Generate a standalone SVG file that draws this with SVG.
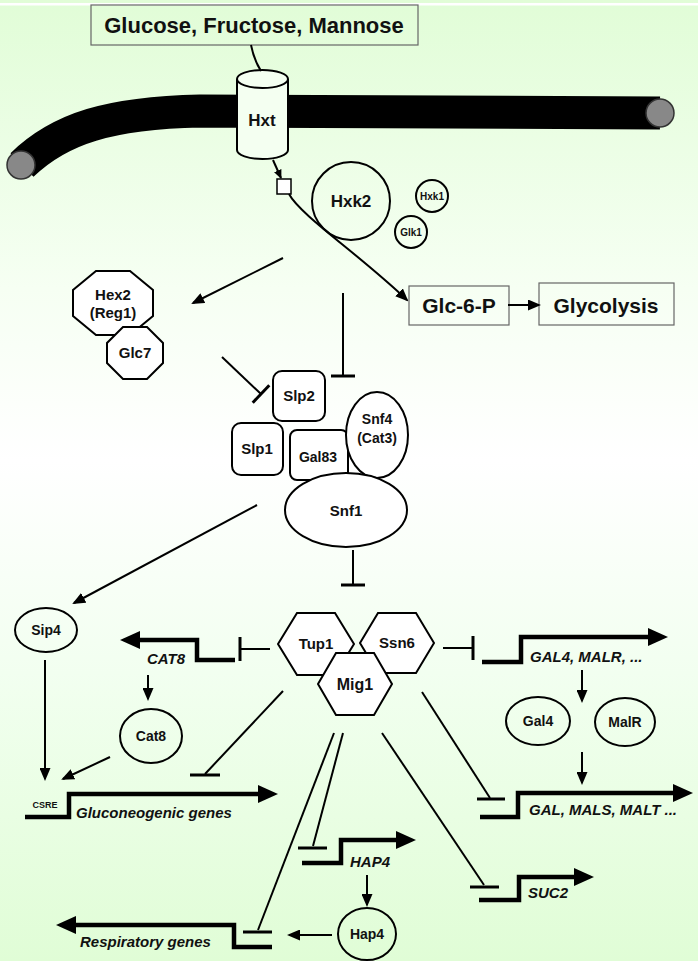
<svg xmlns="http://www.w3.org/2000/svg" width="698" height="961" viewBox="0 0 698 961">
<defs>
<linearGradient id="bg" x1="0" y1="0" x2="0" y2="1">
<stop offset="0" stop-color="#e1fdd7"/>
<stop offset="0.3" stop-color="#f6fff3"/>
<stop offset="0.48" stop-color="#ffffff"/>
<stop offset="0.7" stop-color="#f2fff0"/>
<stop offset="1" stop-color="#e0fdd6"/>
</linearGradient>
<marker id="ah" markerUnits="userSpaceOnUse" markerWidth="13" markerHeight="11" refX="11" refY="5.5" orient="auto" viewBox="0 0 13 11">
<path d="M0,0 L13,5.5 L0,11 z" fill="#000"/>
</marker>
<marker id="ahs" markerUnits="userSpaceOnUse" markerWidth="9" markerHeight="8" refX="8" refY="4" orient="auto" viewBox="0 0 9 8">
<path d="M0,0 L9,4 L0,8 z" fill="#000"/>
</marker>
<marker id="gh" markerUnits="userSpaceOnUse" markerWidth="20" markerHeight="18" refX="3" refY="9" orient="auto" viewBox="0 0 20 18">
<path d="M0,0 L20,9 L0,18 z" fill="#000"/>
</marker>
<style>
.nd{fill:#fff;stroke:#000;stroke-width:2}
.nt{fill:none;stroke:#000;stroke-width:2}
.bx{fill:none;stroke:#666;stroke-width:1.2}
.t{font-family:"Liberation Sans",Arial,sans-serif;font-weight:bold;fill:#111;text-anchor:middle}
.g{font-family:"Liberation Sans",Arial,sans-serif;font-weight:bold;font-style:italic;fill:#111;font-size:15px}
.ln{fill:none;stroke:#000;stroke-width:2}
.bar{fill:none;stroke:#000;stroke-width:3}
.gene{fill:none;stroke:#000;stroke-width:4.5;stroke-linejoin:miter}
.arr{marker-end:url(#ah)}
.garr{marker-end:url(#gh)}
</style>
</defs>
<rect width="698" height="961" fill="url(#bg)"/>
<rect x="0" y="3" width="698" height="2.5" fill="#ffffff"/>

<g id="membrane">
<path d="M 22 165 C 60 128, 110 113, 200 111 L 660 113" fill="none" stroke="#000" stroke-width="33" stroke-linecap="butt"/>
<circle cx="21" cy="165" r="14" fill="#888" stroke="#333" stroke-width="1.5"/>
<circle cx="660" cy="113" r="14" fill="#888" stroke="#333" stroke-width="1.5"/>
</g>

<g id="glucose">
<rect class="bx" x="91" y="5" width="327" height="40"/>
<text class="t" x="254" y="33" font-size="22">Glucose, Fructose, Mannose</text>
</g>

<g id="hxt">
<path d="M 237 79 L 237 150 A 25.5 9 0 0 0 288 150 L 288 79" fill="#f4fff1" stroke="#000" stroke-width="2"/>
<ellipse cx="262.5" cy="79" rx="25.5" ry="9" fill="#f4fff1" stroke="#000" stroke-width="2"/>
<text class="t" x="262" y="126" font-size="17">Hxt</text>
</g>

<g id="square">
<rect x="277" y="179" width="14" height="15" fill="#fff" stroke="#000" stroke-width="1.5"/>
</g>

<g id="hxk2">
<circle class="nt" cx="351" cy="201" r="39"/>
<text class="t" x="351" y="207" font-size="17">Hxk2</text>
</g>
<g id="hxk1">
<circle class="nt" cx="432" cy="196" r="16"/>
<text class="t" x="432" y="199.5" font-size="10">Hxk1</text>
</g>
<g id="glk1">
<circle class="nt" cx="411" cy="232" r="16"/>
<text class="t" x="411" y="235.5" font-size="10">Glk1</text>
</g>

<g id="glc6p">
<rect class="bx" x="409" y="286" width="100" height="39"/>
<text class="t" x="459" y="313" font-size="21">Glc-6-P</text>
</g>
<g id="glycolysis">
<rect class="bx" x="539" y="283" width="135" height="42"/>
<text class="t" x="606" y="313" font-size="21">Glycolysis</text>
</g>

<g id="hex2">
<polygon class="nd" points="96,271 130,271 153,290 153,316 130,335 96,335 73,316 73,290"/>
<text class="t" x="113" y="300" font-size="15">Hex2</text>
<text class="t" x="113" y="318" font-size="15">(Reg1)</text>
</g>
<g id="glc7">
<polygon class="nd" points="123,327 147,327 163,343 163,363 147,379 123,379 107,363 107,343"/>
<text class="t" x="135" y="358" font-size="15">Glc7</text>
</g>

<g id="slp2">
<rect class="nd" x="273" y="371" width="52" height="50" rx="9"/>
<text class="t" x="299" y="401" font-size="15">Slp2</text>
</g>
<g id="slp1">
<rect class="nd" x="232" y="423" width="51" height="52" rx="9"/>
<text class="t" x="257" y="454" font-size="15">Slp1</text>
</g>
<g id="gal83">
<rect class="nd" x="290" y="430" width="58" height="50" rx="7"/>
<text class="t" x="318" y="462" font-size="14">Gal83</text>
</g>
<g id="snf4">
<ellipse class="nd" cx="377" cy="435" rx="31" ry="43"/>
<text class="t" x="377" y="424" font-size="14">Snf4</text>
<text class="t" x="377" y="443" font-size="14">(Cat3)</text>
</g>
<g id="snf1">
<ellipse class="nd" cx="346" cy="510" rx="61" ry="37"/>
<text class="t" x="346" y="516" font-size="15">Snf1</text>
</g>

<g id="sip4">
<ellipse class="nt" cx="46" cy="630" rx="31" ry="22"/>
<text class="t" x="46" y="635" font-size="14">Sip4</text>
</g>
<g id="cat8">
<ellipse class="nt" cx="151" cy="736" rx="31" ry="27"/>
<text class="t" x="151" y="741" font-size="14">Cat8</text>
</g>

<g id="tup1">
<polygon class="nd" points="278,644 297,613 335,613 354,644 335,675 297,675"/>
<text class="t" x="316" y="649" font-size="15">Tup1</text>
</g>
<g id="ssn6">
<polygon class="nd" points="360,643 378,613 416,613 434,643 416,673 378,673"/>
<text class="t" x="397" y="648" font-size="15">Ssn6</text>
</g>
<g id="mig1">
<polygon class="nd" points="318,684 336,653 374,653 392,684 374,715 336,715"/>
<text class="t" x="355" y="690" font-size="16">Mig1</text>
</g>

<g id="gal4">
<ellipse class="nt" cx="538" cy="721" rx="32" ry="24"/>
<text class="t" x="538" y="726" font-size="14">Gal4</text>
</g>
<g id="malr">
<ellipse class="nt" cx="625" cy="722" rx="30" ry="24"/>
<text class="t" x="625" y="727" font-size="14">MalR</text>
</g>
<g id="hap4">
<ellipse class="nt" cx="367" cy="934" rx="29" ry="26"/>
<text class="t" x="367" y="939" font-size="14">Hap4</text>
</g>

<g id="genes">
<path class="gene garr" d="M 235 660 L 197 660 L 197 640 L 137 640"/>
<text class="g" x="147" y="664">CAT8</text>
<path class="gene garr" d="M 25 817 L 69 817 L 69 794 L 261 794"/>
<text class="t" x="45" y="808" font-size="9">CSRE</text>
<text class="g" x="76" y="818" font-size="16">Gluconeogenic genes</text>
<path class="gene garr" d="M 482 662 L 521 662 L 521 637 L 651 637"/>
<text class="g" x="530" y="662">GAL4, MALR, ...</text>
<path class="gene garr" d="M 480 817 L 518 817 L 518 793 L 676 793"/>
<text class="g" x="529" y="815">GAL, MALS, MALT ...</text>
<path class="gene garr" d="M 302 863 L 341 863 L 341 840 L 399 840"/>
<text class="g" x="350" y="867">HAP4</text>
<path class="gene garr" d="M 479 900 L 519 900 L 519 877 L 577 877"/>
<text class="g" x="528" y="898">SUC2</text>
<path class="gene garr" d="M 272 947 L 234 947 L 234 925 L 73 925"/>
<text class="g" x="80" y="947" font-size="16">Respiratory genes</text>
</g>

<g id="connectors">
<path class="ln" d="M 251 45 Q 254 60 261 71"/>
<path class="ln" d="M 273 160 L 281 178" marker-end="url(#ahs)"/>
<path class="ln arr" d="M 289 194 C 300 215, 360 255, 407 300"/>
<path class="ln arr" d="M 283 258 L 193 303"/>
<path class="ln arr" d="M 508 305 L 539 305"/>
<path class="ln" d="M 343 293 L 343 376"/>
<path class="bar" d="M 331 376 L 355 376"/>
<path class="ln" d="M 222 357 L 261 394"/>
<path class="bar" d="M 252.7 402.7 L 269.3 385.3"/>
<path class="ln" d="M 353 550 L 353 585"/>
<path class="bar" d="M 341 585 L 365 585"/>
<path class="ln arr" d="M 257 505 L 74 603"/>
<path class="ln arr" d="M 45 660 L 45 779"/>
<path class="ln" d="M 270 649 L 240 649"/>
<path class="bar" d="M 240 637 L 240 661"/>
<path class="ln arr" d="M 148 675 L 148 699"/>
<path class="ln arr" d="M 110 757 L 63 779"/>
<path class="ln" d="M 283 691 L 205 774"/>
<path class="bar" d="M 190 775 L 220 775"/>
<path class="ln" d="M 443 648 L 473 648"/>
<path class="bar" d="M 473 636 L 473 660"/>
<path class="ln arr" d="M 582 670 L 582 701"/>
<path class="ln arr" d="M 582 752 L 582 783"/>
<path class="ln" d="M 422 692 L 490 798"/>
<path class="bar" d="M 477 799 L 505 799"/>
<path class="ln" d="M 382 733 L 484 885"/>
<path class="bar" d="M 470 887 L 499 887"/>
<path class="ln" d="M 343 733 L 313 846"/>
<path class="bar" d="M 298 848 L 327 848"/>
<path class="ln arr" d="M 367 875 L 367 905"/>
<path class="ln" d="M 334 733 L 258 930"/>
<path class="bar" d="M 243 932 L 272 932"/>
<path class="ln arr" d="M 332 935 L 289 935"/>
</g>
</svg>
